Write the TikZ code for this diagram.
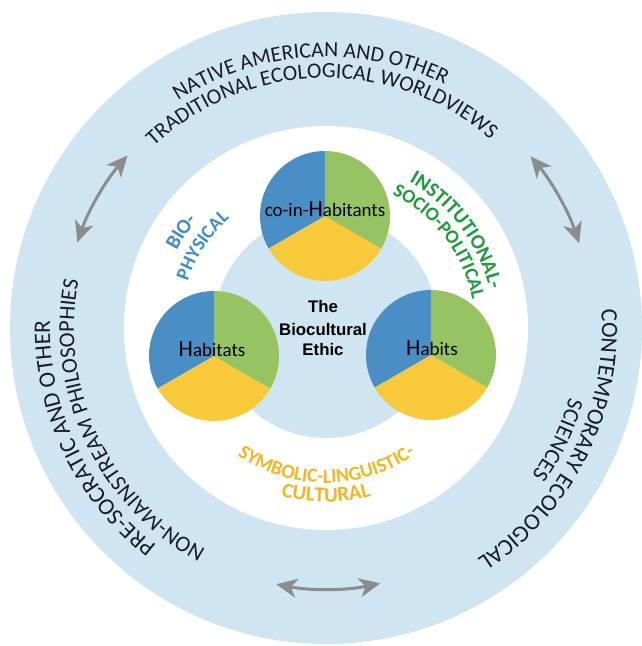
\documentclass[tikz,border=0pt]{standalone}
\usepackage{fontspec}
\usetikzlibrary{decorations.text,arrows.meta}
\newfontfamily\cfont{Carlito}
\newfontfamily\afont{Liberation Sans}
\definecolor{bandblue}{HTML}{CFE5F1}
\definecolor{pieblue}{HTML}{4A8EC6}
\definecolor{piegreen}{HTML}{97C462}
\definecolor{pieyellow}{HTML}{F8C93B}
\definecolor{lblblue}{HTML}{3F8CCB}
\definecolor{lblgreen}{HTML}{1E9B3A}
\definecolor{lblyellow}{HTML}{F2B824}
\definecolor{arrgray}{HTML}{8C8C8C}
\definecolor{ink}{HTML}{1B1B26}
% clockwise arc text, tops outward
\newcommand\ArcCW[6]{%
  \path[decorate,decoration={text along path,text align=center,text color=#1,
    text={|#2\fontsize{#3}{#3}\selectfont|#6}}]
    ({#5+75}:#4) arc[start angle={#5+75}, end angle={#5-75}, radius=#4];}
% counter-clockwise arc text, tops inward
\newcommand\ArcCCW[6]{%
  \path[decorate,decoration={text along path,text align=center,text color=#1,
    text={|#2\fontsize{#3}{#3}\selectfont|#6}}]
    ({#5-75}:#4) arc[start angle={#5-75}, end angle={#5+75}, radius=#4];}
\tikzset{
  arr/.style={draw=arrgray, line width=3pt,
    {Stealth[length=21pt,width=19pt,inset=6pt]}-{Stealth[length=21pt,width=19pt,inset=6pt]}},
  pielabel/.style={font=\cfont\fontsize{19}{19}\selectfont, text=black, inner sep=0pt, anchor=base},
  ethic/.style={font=\afont\bfseries\fontsize{16.8}{16.8}\selectfont, text=black, inner sep=0pt, anchor=base}
}
\newcommand\BigH{{\fontsize{23}{23}\selectfont H}}
\newcommand\DrawPie[2]{%
  \fill[pieblue] (#1) -- ++(90:#2) arc[start angle=90, end angle=210, radius=#2] -- cycle;
  \fill[pieyellow] (#1) -- ++(210:#2) arc[start angle=210, end angle=330, radius=#2] -- cycle;
  \fill[piegreen] (#1) -- ++(-30:#2) arc[start angle=-30, end angle=90, radius=#2] -- cycle;}
\begin{document}
\begin{tikzpicture}[x=1pt,y=1pt]
\useasboundingbox (-326,-318) rectangle (315,328);
% rings
\fill[bandblue] (0,0) circle[radius=316];
\fill[white] (0,0) circle[radius=202];
\fill[bandblue] (0,2) circle[radius=112];
% pies
\coordinate (ptop) at (-1,112);
\coordinate (pleft) at (-112,-28);
\coordinate (pright) at (105,-27);
\DrawPie{ptop}{65}
\DrawPie{pleft}{65}
\DrawPie{pright}{65}
\node[pielabel] (coin) at (ptop) {co-in-\BigH abitants};
\node[pielabel] (habitats) at ([xshift=-2pt]pleft) {\BigH abitats};
\node[pielabel] (habits) at ([xshift=1pt]pright) {\BigH abits};
% center text
\node[ethic] (the) at (-3,16) {The};
\node[ethic] (bio) at (-3,-7) {Biocultural};
\node[ethic] (eth) at (-3,-27) {Ethic};
% outer texts
\ArcCW{ink}{\cfont}{21.8}{271}{93.5}{NATIVE AMERICAN AND OTHER}
\ArcCW{ink}{\cfont}{21.8}{250}{91.2}{TRADITIONAL ECOLOGICAL WORLDVIEWS}
\ArcCW{ink}{\cfont}{23.5}{276}{205.3}{PRE-SOCRATIC AND OTHER}
\ArcCW{ink}{\cfont}{22.5}{252}{205.3}{NON-MAINSTREAM PHILOSOPHIES}
\ArcCW{ink}{\cfont}{23.5}{276}{-26.5}{CONTEMPORARY ECOLOGICAL}
\ArcCW{ink}{\cfont}{22.5}{253}{-25.8}{SCIENCES}
% inner labels
\ArcCW{lblblue}{\cfont\bfseries}{20.5}{168}{146.4}{BIO-}
\ArcCW{lblblue}{\cfont\bfseries}{19.2}{146}{146.3}{PHYSICAL}
\ArcCW{lblgreen}{\cfont\bfseries}{20.5}{168}{36.8}{INSTITUTIONAL-}
\ArcCW{lblgreen}{\cfont\bfseries}{19.2}{149}{37.3}{SOCIO-POLITICAL}
\ArcCCW{lblyellow}{\cfont\bfseries}{19.8}{155}{270.2}{SYMBOLIC-LINGUISTIC-}
\ArcCCW{lblyellow}{\cfont\bfseries}{21}{174}{270}{CULTURAL}
% arrows
\coordinate (ulA) at (139:263);
\coordinate (urA) at (40:267);
\coordinate (btA) at (259:261);
\draw[arr] (ulA) arc[start angle=139, end angle=161, radius=263];
\draw[arr] (urA) arc[start angle=40, end angle=18.5, radius=267];
\draw[arr] (btA) arc[start angle=259, end angle=282, radius=261];
\end{tikzpicture}
\end{document}
